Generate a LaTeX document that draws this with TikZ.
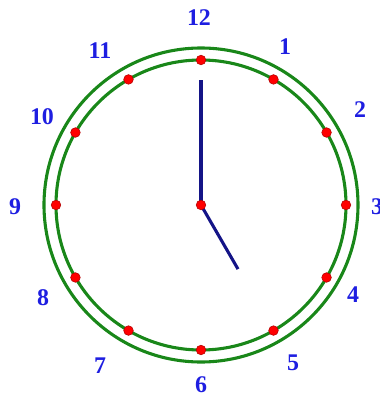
\documentclass[tikz,border=0pt]{standalone}
\usepackage{fontspec}
\setmainfont{Liberation Serif}
\usepackage{tikz}
\usetikzlibrary{calc, positioning}

\definecolor{ringgreen}{RGB}{25,135,25}
\definecolor{handnavy}{RGB}{20,20,135}
\definecolor{numblue}{RGB}{30,30,225}

\begin{document}
\begin{tikzpicture}[x=0.025cm, y=0.025cm,
    ring/.style={draw=ringgreen, line width=2.2pt},
    hand/.style={draw=handnavy, line width=2.2pt},
    hourdot/.style={circle, fill=red, draw=red!70!black, line width=0.4pt, inner sep=0pt, minimum size=2.4mm},
    hournum/.style={text=numblue, inner sep=0pt, font=\fontsize{17}{17}\selectfont\bfseries}]
    \useasboundingbox (-201,-191) rectangle (179,205);

    % Mặt đồng hồ
    \coordinate (O) at (0,0);
    \draw[ring] (O) circle (157);
    \draw[ring] (O) circle (145);

    % Kim giờ và kim phút
    \coordinate (minend) at (0,125);
    \coordinate (hourend) at (-60:74);
    \draw[hand] (O) -- (minend);
    \draw[hand] (O) -- (hourend);

    % Các mốc giờ
    \foreach \h in {1,...,12} {
        \node[hourdot] (d\h) at ({90-30*\h}:145) {};
    }
    \node[hourdot] (c) at (O) {};

    % Các số
    \foreach \h/\x/\y in {1/84/158, 2/159/95, 3/176/-2, 4/152/-90, 5/92/-158, 6/0/-180,
                          7/-101/-161, 8/-158/-93, 9/-186/-2, 10/-159/88, 11/-101/154, 12/-2/187} {
        \node[hournum] (n\h) at (\x,\y) {\h};
    }
\end{tikzpicture}
\end{document}
